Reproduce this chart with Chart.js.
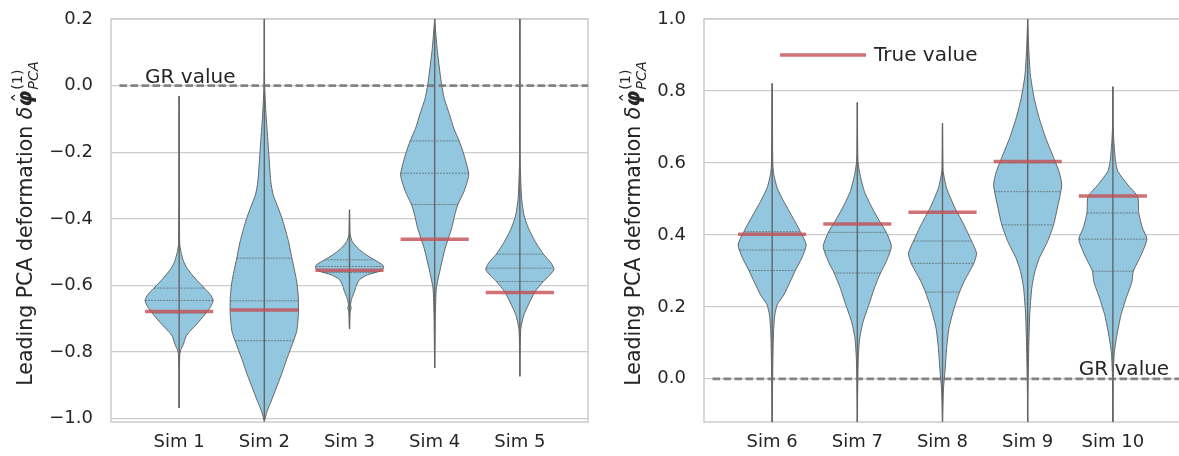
<!DOCTYPE html>
<html>
<head>
<meta charset="utf-8">
<script src="https://cdn.jsdelivr.net/npm/chart.js@4/dist/chart.umd.min.js"></script>
<style>
    html, body { margin: 0; padding: 0; background: #fff; }
    #wrap { position: relative; width: 1179px; height: 456px; overflow: hidden; }
    canvas { position: absolute; top: 0; }
    #left { left: 0; }
    #right { left: 600px; }
</style>
</head>
<body>
<div id="wrap">
    <canvas id="left" width="600" height="456"></canvas>
    <canvas id="right" width="585" height="456"></canvas>
</div>
<script>
// Categories and tick labels
const leftNames = ['Sim 1', 'Sim 2', 'Sim 3', 'Sim 4', 'Sim 5'];
const rightNames = ['Sim 6', 'Sim 7', 'Sim 8', 'Sim 9', 'Sim 10'];
const leftTicks = [-1.0, -0.8, -0.6, -0.4, -0.2, 0.0, 0.2];
const rightTicks = [0.0, 0.2, 0.4, 0.6, 0.8, 1.0];

// Violin outlines: [value, relative half-width], top to bottom
const sim1Shape = [[-0.031, 0], [-0.30, 0.005], [-0.468, 0.015], [-0.478, 0.02], [-0.498, 0.05], [-0.528, 0.13], [-0.548, 0.23], [-0.578, 0.46], [-0.608, 0.74], [-0.628, 0.92], [-0.645, 1.0], [-0.663, 0.93], [-0.688, 0.75], [-0.718, 0.50], [-0.738, 0.31], [-0.753, 0.20], [-0.778, 0.12], [-0.793, 0.05], [-0.808, 0.02], [-0.85, 0.01], [-0.968, 0]];
const sim2Shape = [[0.2, 0], [0.0, 0.01], [-0.088, 0.05], [-0.188, 0.12], [-0.288, 0.19], [-0.328, 0.26], [-0.368, 0.41], [-0.408, 0.55], [-0.468, 0.71], [-0.518, 0.81], [-0.588, 0.95], [-0.638, 1.0], [-0.688, 1.0], [-0.738, 0.95], [-0.766, 0.86], [-0.818, 0.67], [-0.868, 0.50], [-0.908, 0.35], [-0.948, 0.20], [-0.978, 0.08], [-1.008, 0]];
const sim3Shape = [[-0.373, 0], [-0.43, 0.01], [-0.448, 0.02], [-0.468, 0.08], [-0.488, 0.24], [-0.508, 0.49], [-0.523, 0.73], [-0.538, 0.97], [-0.548, 1.0], [-0.558, 0.87], [-0.568, 0.53], [-0.583, 0.29], [-0.603, 0.19], [-0.618, 0.15], [-0.638, 0.07], [-0.658, 0.03], [-0.668, 0.05], [-0.678, 0.02], [-0.70, 0.01], [-0.731, 0]];
const sim4Shape = [[0.2, 0], [0.112, 0.07], [0.012, 0.19], [-0.038, 0.28], [-0.088, 0.44], [-0.128, 0.56], [-0.166, 0.72], [-0.208, 0.86], [-0.268, 1.0], [-0.318, 0.86], [-0.357, 0.68], [-0.388, 0.59], [-0.428, 0.50], [-0.488, 0.31], [-0.548, 0.17], [-0.608, 0.05], [-0.688, 0.02], [-0.768, 0.01], [-0.848, 0]];
const sim5Shape = [[0.2, 0], [-0.2, 0.005], [-0.238, 0.01], [-0.338, 0.05], [-0.388, 0.12], [-0.428, 0.25], [-0.468, 0.45], [-0.506, 0.69], [-0.533, 0.92], [-0.553, 1.0], [-0.578, 0.79], [-0.588, 0.69], [-0.618, 0.45], [-0.658, 0.25], [-0.688, 0.12], [-0.728, 0.03], [-0.78, 0.01], [-0.873, 0]];
const sim6Shape = [[0.821, 0], [0.70, 0.01], [0.594, 0.02], [0.567, 0.05], [0.530, 0.15], [0.493, 0.34], [0.456, 0.56], [0.409, 0.83], [0.372, 1.0], [0.336, 0.87], [0.301, 0.68], [0.270, 0.53], [0.233, 0.34], [0.206, 0.15], [0.178, 0.08], [0.13, 0.04], [0.04, 0.02], [-0.12, 0]];
const sim7Shape = [[0.768, 0], [0.65, 0.01], [0.604, 0.02], [0.567, 0.08], [0.520, 0.21], [0.474, 0.44], [0.437, 0.66], [0.407, 0.85], [0.368, 1.0], [0.326, 0.85], [0.294, 0.68], [0.252, 0.50], [0.206, 0.34], [0.159, 0.17], [0.113, 0.07], [0.06, 0.03], [0.0, 0.015], [-0.12, 0]];
const sim8Shape = [[0.710, 0], [0.60, 0.01], [0.576, 0.02], [0.530, 0.12], [0.474, 0.37], [0.428, 0.63], [0.383, 0.85], [0.349, 1.0], [0.321, 0.92], [0.270, 0.63], [0.241, 0.50], [0.196, 0.34], [0.141, 0.19], [0.085, 0.12], [0.030, 0.08], [-0.026, 0.03], [-0.08, 0.01], [-0.12, 0]];
const sim9Shape = [[1.0, 0], [0.919, 0.03], [0.844, 0.08], [0.780, 0.19], [0.724, 0.34], [0.669, 0.53], [0.622, 0.73], [0.576, 0.92], [0.539, 1.0], [0.474, 0.87], [0.428, 0.76], [0.381, 0.58], [0.335, 0.34], [0.298, 0.21], [0.252, 0.12], [0.178, 0.06], [0.08, 0.03], [-0.02, 0.01], [-0.12, 0]];
const sim10Shape = [[0.812, 0], [0.70, 0.01], [0.659, 0.03], [0.604, 0.08], [0.576, 0.15], [0.539, 0.44], [0.506, 0.73], [0.461, 0.76], [0.419, 0.87], [0.388, 1.0], [0.344, 0.83], [0.299, 0.60], [0.270, 0.56], [0.224, 0.39], [0.178, 0.24], [0.122, 0.12], [0.07, 0.04], [0.0, 0.01], [-0.12, 0]];

// Quartile lines (upper, median, lower) and true values
const leftQuartiles = [[-0.608, -0.645, -0.683], [-0.518, -0.646, -0.766], [-0.523, -0.543, -0.561], [-0.166, -0.263, -0.357], [-0.506, -0.548, -0.588]];
const rightQuartiles = [[0.409, 0.358, 0.301], [0.407, 0.356, 0.294], [0.383, 0.321, 0.241], [0.600, 0.520, 0.428], [0.461, 0.388, 0.299]];
const leftTrue = [-0.678, -0.674, -0.554, -0.461, -0.621];
const rightTrue = [0.402, 0.430, 0.463, 0.604, 0.508];
const grValue = 0.0;

const HALF = 0.4;
const VIOLIN = 'rgb(146,199,223)';
const EDGE = '#656565';
const QLINE = 'rgba(80,80,80,0.6)';
const RED = 'rgba(196,78,82,0.8)';
const GRCOL = 'rgba(115,115,115,0.85)';
const TEXT = '#262626';
const FONT = '"DejaVu Sans"';

/**
 * Half-width of a violin at a value
 */
function widthAt(shape, v) {
    for (let i = 0; i < shape.length - 1; i++) {
        const [v0, f0] = shape[i];
        const [v1, f1] = shape[i + 1];
        if (v <= v0 && v >= v1) {
            const t = (v0 - v) / (v0 - v1);
            return f0 + t * (f1 - f0);
        }
    }
    return 0;
}

function buildDatasets(shapes, quarts, truths) {
    const sets = [];
    shapes.forEach((shape, i) => {
        const right = shape.map(([v, f]) => ({ x: i + f * HALF, y: v }));
        const left = shape.map(([v, f]) => ({ x: i - f * HALF, y: v })).reverse();
        sets.push({
            data: right.concat(left), showLine: true, fill: 'shape',
            backgroundColor: VIOLIN, borderColor: EDGE, borderWidth: 1,
            tension: 0.2, order: 5
        });
        quarts[i].forEach(q => {
            const w = widthAt(shape, q) * HALF;
            sets.push({
                data: [{ x: i - w, y: q }, { x: i + w, y: q }], showLine: true,
                borderColor: QLINE, borderWidth: 1, borderDash: [2, 1], order: 4
            });
        });
        sets.push({
            data: [{ x: i, y: shape[0][0] }, { x: i, y: shape[shape.length - 1][0] }],
            showLine: true, borderColor: EDGE, borderWidth: 1.4, order: 3
        });
        sets.push({
            data: [{ x: i - HALF, y: truths[i] }, { x: i + HALF, y: truths[i] }],
            showLine: true, borderColor: RED, borderWidth: 3.5, order: 1
        });
    });
    sets.push({
        data: [{ x: -0.7, y: grValue }, { x: 4.8, y: grValue }], showLine: true,
        borderColor: GRCOL, borderWidth: 2.8, borderDash: [7.5, 3.5], order: 2
    });
    return sets;
}

function fmtTick(v) {
    const s = (Math.abs(v) < 1e-9 ? 0 : v).toFixed(1);
    return s.replace('-', '\u2212');
}

// Axis frame (seaborn whitegrid spines)
const framePlugin = {
    id: 'frame',
    beforeDatasetsDraw(chart) {
        const { ctx, chartArea: a } = chart;
        ctx.save();
        ctx.strokeStyle = '#cccccc';
        ctx.lineWidth = 1.5;
        ctx.strokeRect(a.left, a.top, a.right - a.left, a.bottom - a.top);
        ctx.restore();
    }
};

/**
 * Rotated y title with the math symbol  δφ̂^(1)_PCA
 */
function drawTitle(ctx, cx, cy) {
    const fs = 20.5;
    const fs2 = fs * 0.7;
    const parts = {
        main: ['Leading PCA deformation ', `${fs}px ${FONT}`],
        delta: ['\u03b4', `italic ${fs}px ${FONT}`],
        phi: ['\u03c6', `italic bold ${fs}px ${FONT}`],
        sup: ['(1)', `${fs2}px ${FONT}`],
        sub: ['PCA', `italic ${fs2}px ${FONT}`]
    };
    const w = {};
    for (const k in parts) {
        ctx.font = parts[k][1];
        w[k] = ctx.measureText(parts[k][0]).width;
    }
    const total = w.main + w.delta + w.phi + 1 + Math.max(w.sup, w.sub);
    ctx.save();
    ctx.translate(cx, cy);
    ctx.rotate(-Math.PI / 2);
    ctx.fillStyle = TEXT;
    ctx.textBaseline = 'alphabetic';
    const base = fs * 0.35;
    let x = -total / 2;
    const put = (k, dy) => { ctx.font = parts[k][1]; ctx.fillText(parts[k][0], x, base + dy); };
    put('main', 0); x += w.main;
    put('delta', 0); x += w.delta;
    put('phi', 0);
    ctx.font = `${fs}px ${FONT}`;
    ctx.textAlign = 'center';
    ctx.fillText('\u02c6', x + w.phi / 2 + 1, base - fs * 0.22);
    ctx.textAlign = 'left';
    x += w.phi + 1;
    put('sup', -fs * 0.5);
    put('sub', fs * 0.3);
    ctx.restore();
}

function textPlugin(cfg) {
    return {
        id: 'texts',
        afterDatasetsDraw(chart) {
            const { ctx, chartArea: a, scales } = chart;
            drawTitle(ctx, cfg.titleX, (a.top + a.bottom) / 2 + 3);
            ctx.save();
            ctx.fillStyle = TEXT;
            ctx.font = `20px ${FONT}`;
            ctx.textBaseline = 'alphabetic';
            ctx.fillText('GR value', scales.x.getPixelForValue(cfg.grX), scales.y.getPixelForValue(grValue) - cfg.grLift);
            if (cfg.legend) {
                const ly = a.top + 36;
                ctx.strokeStyle = RED;
                ctx.lineWidth = 3.5;
                ctx.beginPath();
                ctx.moveTo(a.left + 76, ly);
                ctx.lineTo(a.left + 162, ly);
                ctx.stroke();
                ctx.textBaseline = 'middle';
                ctx.fillText('True value', a.left + 170, ly + 1);
            }
            ctx.restore();
        }
    };
}

function makeChart(id, cfg) {
    return new Chart(document.getElementById(id), {
        type: 'scatter',
        data: { datasets: buildDatasets(cfg.shapes, cfg.quarts, cfg.truths) },
        options: {
            responsive: false,
            animation: false,
            devicePixelRatio: 1,
            layout: { padding: { top: 19, right: cfg.padRight, left: 0, bottom: 0 } },
            plugins: { legend: { display: false }, tooltip: { enabled: false } },
            elements: { point: { radius: 0, hoverRadius: 0 } },
            scales: {
                x: {
                    type: 'linear', min: -0.8, max: 4.8,
                    grid: { display: false }, border: { display: false },
                    afterBuildTicks: s => { s.ticks = cfg.names.map((_, i) => ({ value: i })); },
                    afterFit: s => { s.height = 34; s.paddingLeft = 0; s.paddingRight = 0; },
                    ticks: {
                        callback: v => cfg.names[v], color: TEXT, autoSkip: false, maxRotation: 0,
                        font: { family: 'DejaVu Sans', size: 18 }, padding: 2
                    }
                },
                y: {
                    type: 'linear', min: cfg.yMin, max: cfg.yMax,
                    grid: { color: '#cccccc', lineWidth: 1.2, drawTicks: false },
                    border: { display: false },
                    afterBuildTicks: s => { s.ticks = cfg.ticks.map(v => ({ value: v })); },
                    afterFit: s => { s.width = cfg.yWidth; s.paddingTop = 0; s.paddingBottom = 0; },
                    ticks: {
                        callback: v => fmtTick(v), color: TEXT,
                        font: { family: 'DejaVu Sans', size: 18 }, padding: 18
                    }
                }
            }
        },
        plugins: [framePlugin, textPlugin(cfg)]
    });
}

makeChart('left', {
    names: leftNames, ticks: leftTicks, yMin: -1.01, yMax: 0.2,
    shapes: [sim1Shape, sim2Shape, sim3Shape, sim4Shape, sim5Shape],
    quarts: leftQuartiles, truths: leftTrue,
    yWidth: 111, padRight: 12, titleX: 25, grX: -0.4, grLift: 3, legend: false
});

makeChart('right', {
    names: rightNames, ticks: rightTicks, yMin: -0.12, yMax: 1.0,
    shapes: [sim6Shape, sim7Shape, sim8Shape, sim9Shape, sim10Shape],
    quarts: rightQuartiles, truths: rightTrue,
    yWidth: 104, padRight: 4, titleX: 33, grX: 3.6, grLift: 4, legend: true
});
</script>
</body>
</html>
